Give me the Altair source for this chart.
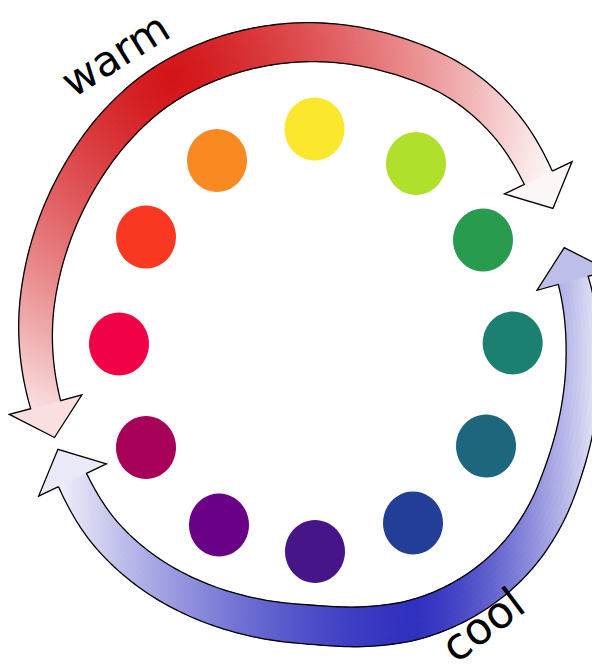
import math
import numpy as np
import pandas as pd
import altair as alt

# ---------------- colour wheel: 12 hues ----------------
wheel_names = ["yellow", "yellow-green", "green", "blue-green", "teal", "blue",
               "blue-violet", "violet", "red-violet", "red", "red-orange", "orange"]
wheel_colors = ["#FBE72B", "#B0E02B", "#289B4F", "#1C8070", "#1C677D", "#223E96",
                "#461689", "#6A0085", "#A70058", "#F00046", "#F93822", "#F98A22"]
wheel_x = [314.5, 416, 483, 512.7, 486, 413, 315, 219, 146, 119, 146, 217]
wheel_y = [129, 163.5, 240, 343, 446, 523, 551.5, 525, 447.5, 344, 237, 160.5]

# ---------------- arrows: centre line as polar samples around a common centre ----------------
centre_x, centre_y = 315.0, 340.0
warm_theta = [36, 48, 60, 75, 93, 108, 123, 133, 144, 156, 166, 175, 193.5]
warm_r = [276, 287, 294, 296, 298, 298, 296, 292, 287, 283, 281, 280, 277]
cool_theta = [-150, -138, -126, -114, -102, -90, -80, -70, -59, -47, -37, -28, -17, -5, 13]
cool_r = [280, 285, 286, 285, 284, 285, 291, 297, 299, 296, 289, 281, 274, 269, 265]

shaft_end_width = 31
shaft_mid_width = 40
head_half_width = 37.5
head_length = 34

warm_dark = "#D31519"
cool_dark = "#3131C0"

# gradients: warm = radial, cool = horizontal (peak / fade positions)
warm_grad_cx, warm_grad_cy, warm_grad_r = 170, 80, 400
cool_peak_x, cool_left_x, cool_right_x = 415, 40, 615

labels = ["warm", "cool"]
label_x = [123, 492]
label_y = [67, 637]
label_angle = [328, 323]
label_size = [42, 44]

TRI = "M-1,0L0,-0.9L1,0Z"
ELLIPSE = "M-1,0A1,1.05,0,1,0,1,0A1,1.05,0,1,0,-1,0Z"


def smooth_curve(xk, yk, xq):
    xk = np.asarray(xk, float)
    yk = np.asarray(yk, float)
    m = np.gradient(yk, xk)
    idx = np.clip(np.searchsorted(xk, xq, side="right") - 1, 0, len(xk) - 2)
    h = xk[idx + 1] - xk[idx]
    t = (xq - xk[idx]) / h
    h00 = 2 * t**3 - 3 * t**2 + 1
    h10 = t**3 - 2 * t**2 + t
    h01 = -2 * t**3 + 3 * t**2
    h11 = t**3 - t**2
    return h00 * yk[idx] + h10 * h * m[idx] + h01 * yk[idx + 1] + h11 * h * m[idx + 1]


def warm_f(x, y):
    d = math.hypot(x - warm_grad_cx, y - warm_grad_cy)
    return 1 - min(d / warm_grad_r, 1.0) ** 1.3


def cool_f(x, y):
    if x < cool_peak_x:
        u = (cool_peak_x - x) / (cool_peak_x - cool_left_x)
    else:
        u = (x - cool_peak_x) / (cool_right_x - cool_peak_x)
    return 1 - min(u, 1.0) ** 1.5


def build_arrow(name, theta_k, r_k, colour_fn, nseg=200, nstrip=8):
    th = np.linspace(theta_k[0], theta_k[-1], nseg + 1)
    r = smooth_curve(theta_k, r_k, th)
    rad = np.radians(th)
    px = centre_x + r * np.cos(rad)
    py = centre_y - r * np.sin(rad)
    tx = np.gradient(px)
    ty = np.gradient(py)
    nrm = np.hypot(tx, ty)
    tx, ty = tx / nrm, ty / nrm
    nx, ny = ty.copy(), -tx.copy()
    sgn = np.sign(nx * (px - centre_x) + ny * (py - centre_y))
    nx, ny = nx * sgn, ny * sgn
    u = np.linspace(0, 1, nseg + 1)
    w = shaft_end_width + (shaft_mid_width - shaft_end_width) * np.sin(np.pi * u)

    rules = []
    for j in range(nstrip):
        off = -w / 2 + (j + 0.5) * w / nstrip
        sx = px + off * nx
        sy = py + off * ny
        for i in range(nseg):
            mx = (sx[i] + sx[i + 1]) / 2
            my = (sy[i] + sy[i + 1]) / 2
            rules.append(dict(x=sx[i], y=sy[i], x2=sx[i + 1], y2=sy[i + 1],
                              sw=(w[i] + w[i + 1]) / 2 / nstrip + 0.7,
                              f=colour_fn(mx, my)))

    heads = []
    outline_pts = []
    ox = px + w / 2 * nx
    oy = py + w / 2 * ny
    ix = px - w / 2 * nx
    iy = py - w / 2 * ny

    def head(k, dx, dy):
        bx, by = px[k], py[k]
        bo = (bx + head_half_width * nx[k], by + head_half_width * ny[k])
        bi = (bx - head_half_width * nx[k], by - head_half_width * ny[k])
        tip = (bx + head_length * dx, by + head_length * dy)
        cxm = (bo[0] + bi[0] + tip[0]) / 3
        cym = (bo[1] + bi[1] + tip[1]) / 3
        ang = math.degrees(math.atan2(dx, -dy)) % 360
        heads.append(dict(x=bx, y=by, ang=ang, f=colour_fn(cxm, cym)))
        return bo, tip, bi

    bo_e, tip_e, bi_e = head(nseg, tx[-1], ty[-1])
    bo_s, tip_s, bi_s = head(0, -tx[0], -ty[0])

    seq = list(zip(ox, oy))
    seq += [bo_e, tip_e, bi_e]
    seq += list(zip(ix[::-1], iy[::-1]))
    seq += [bi_s, tip_s, bo_s]
    seq += [(ox[0], oy[0])]
    for k, (a, b) in enumerate(seq):
        outline_pts.append(dict(x=a, y=b, k=k, arrow=name))
    return pd.DataFrame(rules), pd.DataFrame(heads), pd.DataFrame(outline_pts)


warm_rules, warm_heads, warm_outline = build_arrow("warm", warm_theta, warm_r, warm_f)
cool_rules, cool_heads, cool_outline = build_arrow("cool", cool_theta, cool_r, cool_f)
outline = pd.concat([warm_outline, cool_outline], ignore_index=True)

wheel = pd.DataFrame({"name": wheel_names, "x": wheel_x, "y": wheel_y})
text_df = pd.DataFrame({"label": labels, "x": label_x, "y": label_y,
                        "ang": label_angle, "fs": label_size})

xs = alt.Scale(domain=[8, 592], nice=False, zero=False)
ys = alt.Scale(domain=[8, 663], nice=False, zero=False, reverse=True)
X = alt.X("x:Q", scale=xs, axis=None)
Y = alt.Y("y:Q", scale=ys, axis=None)


def rule_layer(df, dark):
    return alt.Chart(df).mark_rule(strokeCap="round").encode(
        x=X, y=Y, x2="x2:Q", y2="y2:Q",
        strokeWidth=alt.StrokeWidth("sw:Q", scale=None),
        color=alt.Color("f:Q", legend=None,
                        scale=alt.Scale(domain=[0, 1], range=["#FFFFFF", dark], interpolate="rgb")),
    )


def head_layer(df, dark):
    return alt.Chart(df).mark_point(shape=TRI, filled=True, opacity=1, size=(2 * head_half_width) ** 2,
                                    strokeWidth=0).encode(
        x=X, y=Y,
        angle=alt.Angle("ang:Q", scale=None),
        color=alt.Color("f:Q", legend=None,
                        scale=alt.Scale(domain=[0, 1], range=["#FFFFFF", dark], interpolate="rgb")),
    )


outline_layer = alt.Chart(outline).mark_line(color="black", strokeWidth=1.3, strokeJoin="miter").encode(
    x=X, y=Y, order="k:Q", detail="arrow:N")

circles = alt.Chart(wheel).mark_point(shape=ELLIPSE, filled=True, opacity=1, size=3600, strokeWidth=0).encode(
    x=X, y=Y,
    color=alt.Color("name:N", legend=None, scale=alt.Scale(domain=wheel_names, range=wheel_colors)),
)

texts = alt.Chart(text_df).mark_text(font="DejaVu Sans", align="center", baseline="alphabetic",
                                     color="black").encode(
    x=X, y=Y, text="label:N",
    angle=alt.Angle("ang:Q", scale=None),
    size=alt.Size("fs:Q", scale=None),
)

chart = alt.layer(
    rule_layer(warm_rules, warm_dark),
    rule_layer(cool_rules, cool_dark),
    head_layer(warm_heads, warm_dark),
    head_layer(cool_heads, cool_dark),
    outline_layer,
    circles,
    texts,
).resolve_scale(color="independent").properties(
    width=584, height=655, padding=0, autosize="none"
).configure_view(strokeWidth=0)

chart.save("out.html", embed_options={"renderer": "svg", "actions": False})
